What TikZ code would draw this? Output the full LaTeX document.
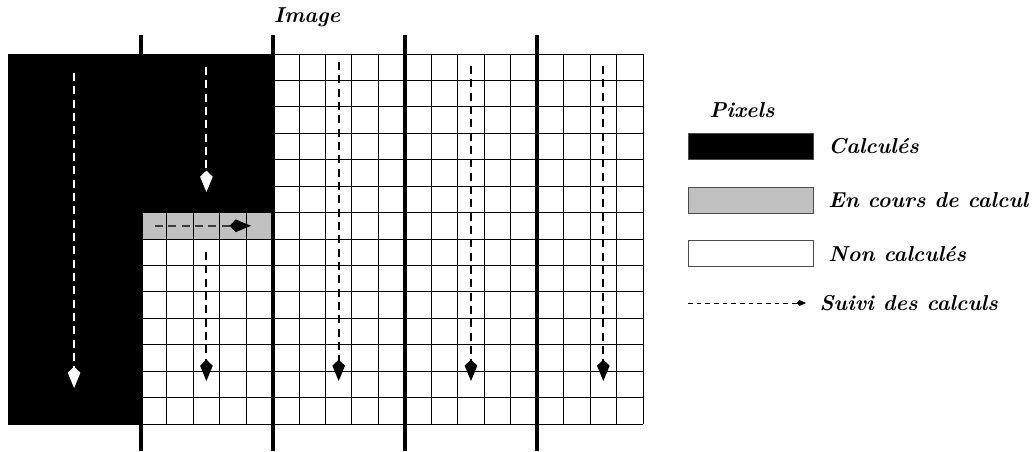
\documentclass[tikz,border=0pt]{standalone}
\usepackage{tikz}
\usetikzlibrary{arrows.meta, positioning}
\definecolor{encours}{RGB}{192,192,192}
\definecolor{lignegris}{RGB}{60,60,60}
\newcommand{\legfont}{\fontsize{16.2pt}{19pt}\selectfont\bfseries\itshape}
\tikzset{
  cell/.style={draw=black, line width=0.7pt},
  bandline/.style={draw=black, line width=3.6pt},
  flow/.style={-{Kite[length=16pt, width=9.5pt, inset=4.5pt]},
               dash pattern=on 6pt off 4pt, line width=1.4pt},
  keybox/.style={rectangle, draw=black!70, line width=0.7pt, inner sep=0pt,
                 minimum width=93.75pt, minimum height=19.5pt},
  keytext/.style={font=\legfont, anchor=west, inner sep=0pt},
  keyflow/.style={-{Kite[length=7pt, width=4.5pt, inset=2pt]},
                  dash pattern=on 3.5pt off 3pt, line width=0.6pt}
}

\begin{document}
\begin{tikzpicture}[x=0.75pt, y=-0.75pt]

  \useasboundingbox (0,0) rectangle (1032,451);

  %% ── Image grid ────────────────────────────────────────────────────────
  \fill[encours] (141,212.6) rectangle (273,239);
  \foreach \i in {0,...,24}
    \draw[cell] ({8+\i*26.458},54) -- ({8+\i*26.458},424);
  \foreach \j in {0,...,14}
    \draw[cell] (8,{54+\j*26.43}) -- (643,{54+\j*26.43});

  %% computed pixels
  \fill[black] (8,54) -- (273,54) -- (273,212.6) -- (141,212.6)
               -- (141,424) -- (8,424) -- cycle;

  %% band separators
  \foreach \x in {141,273,405,537}
    \draw[bandline] (\x,35) -- (\x,451);

  \node[font=\legfont] (title) at (307,17) {Image};

  %% ── Flow of computation ───────────────────────────────────────────────
  \coordinate (a1s) at (74.1,73);   \coordinate (a1e) at (74.1,388);
  \coordinate (a2s) at (206.4,67);  \coordinate (a2e) at (206.4,192);
  \coordinate (a3s) at (155,225.8); \coordinate (a3e) at (251,225.8);
  \coordinate (a4s) at (206.4,252); \coordinate (a4e) at (206.4,381);
  \coordinate (a5s) at (338.7,62);  \coordinate (a5e) at (338.7,381);
  \coordinate (a6s) at (471,66);    \coordinate (a6e) at (471,381);
  \coordinate (a7s) at (603.3,66);  \coordinate (a7e) at (603.3,381);

  \draw[flow, white] (a1s) -- (a1e);
  \draw[flow, white] (a2s) -- (a2e);
  \draw[flow, lignegris, -{Kite[length=16pt, width=9.5pt, inset=4.5pt, color=black]}] (a3s) -- (a3e);
  \draw[flow] (a4s) -- (a4e);
  \draw[flow] (a5s) -- (a5e);
  \draw[flow] (a6s) -- (a6e);
  \draw[flow] (a7s) -- (a7e);

  %% ── Legend ────────────────────────────────────────────────────────────
  \node[keybox, fill=black] (keyCalc) at (750.5,146.5) {};
  \node[keybox, fill=encours, below=20pt of keyCalc] (keyCours) {};
  \node[keybox, fill=white, below=20pt of keyCours] (keyNon) {};
  \node[font=\legfont] (keyTitle) at (742,110) {Pixels};

  \node[keytext, right=11pt of keyCalc] (lblCalc) {Calculés};
  \node[keytext, right=11pt of keyCours] (lblCours) {En cours de calcul};
  \node[keytext, right=11pt of keyNon] (lblNon) {Non calculés};

  \coordinate (keyA) at (688,303);
  \coordinate (keyB) at (806,303);
  \draw[keyflow] (keyA) -- (keyB);
  \node[keytext, right=10pt of keyB] (lblSuivi) {Suivi des calculs};

\end{tikzpicture}
\end{document}
